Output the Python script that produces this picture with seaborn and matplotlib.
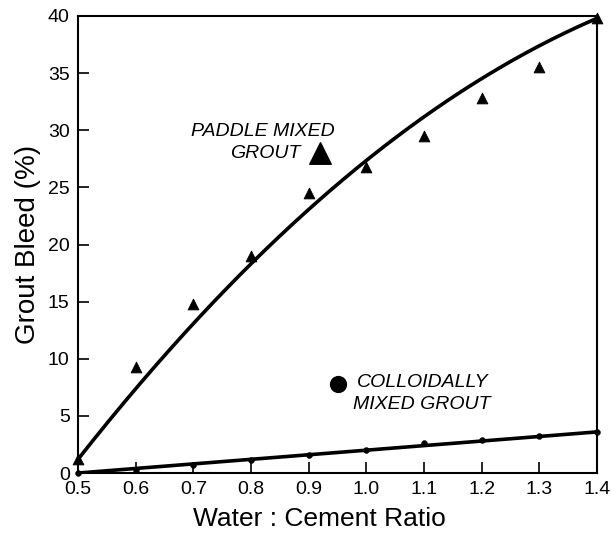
import numpy as np
import pandas as pd
import matplotlib
matplotlib.use("Agg")
import matplotlib.pyplot as plt
import seaborn as sns

ratio = [0.5, 0.6, 0.7, 0.8, 0.9, 1.0, 1.1, 1.2, 1.3, 1.4]
paddle_bleed = [1.2, 9.3, 14.8, 19.0, 24.5, 26.8, 29.5, 32.8, 35.5, 39.8]
colloidal_bleed = [0.0, 0.3, 0.7, 1.1, 1.6, 2.0, 2.6, 2.9, 3.2, 3.6]

sns.set_theme(style="ticks")
plt.rcParams["font.family"] = ["Liberation Sans", "DejaVu Sans"]

fig = plt.figure(figsize=(6.12, 5.4), dpi=100)
ax = fig.add_axes([0.1275, 0.124, 0.848, 0.8464])

df = pd.DataFrame({"ratio": ratio, "paddle": paddle_bleed, "colloidal": colloidal_bleed})

xs = np.linspace(0.5, 1.4, 200)
w = np.ones(len(ratio))
w[0] = w[-1] = 30.0
p2 = np.polyfit(ratio, paddle_bleed, 2, w=w)
p1 = np.polyfit(ratio, colloidal_bleed, 1, w=w)
fit = pd.DataFrame({"x": xs, "paddle": np.polyval(p2, xs), "colloidal": np.polyval(p1, xs)})

sns.lineplot(data=fit, x="x", y="paddle", ax=ax, color="black", linewidth=2.6)
sns.lineplot(data=fit, x="x", y="colloidal", ax=ax, color="black", linewidth=2.6)
sns.scatterplot(data=df, x="ratio", y="paddle", ax=ax, marker="^", s=60, color="black",
                edgecolor="black", clip_on=False, zorder=5)
sns.scatterplot(data=df, x="ratio", y="colloidal", ax=ax, marker="o", s=18, color="black",
                edgecolor="black", clip_on=False, zorder=5)

# legend-like annotations
ax.scatter([0.92], [28.0], marker="^", s=240, color="black", zorder=5)
ax.text(0.946, 29.85, "PADDLE MIXED", ha="right", va="center", fontsize=14, style="italic",
        color="black")
ax.text(0.885, 28.0, "GROUT", ha="right", va="center", fontsize=14, style="italic",
        color="black")
ax.scatter([0.951], [7.8], marker="o", s=130, color="black", zorder=5)
ax.text(0.984, 7.9, "COLLOIDALLY", ha="left", va="center", fontsize=14, style="italic",
        color="black")
ax.text(0.977, 6.0, "MIXED GROUT", ha="left", va="center", fontsize=14, style="italic",
        color="black")

ax.set_xlim(0.5, 1.4)
ax.set_ylim(0, 40)
ax.set_xticks(ratio)
ax.set_xticklabels(["0.5", "0.6", "0.7", "0.8", "0.9", "1.0", "1.1", "1.2", "1.3", "1.4"])
ax.set_yticks([0, 5, 10, 15, 20, 25, 30, 35, 40])
ax.tick_params(direction="in", length=8, width=1.2, labelsize=14, colors="black")
ax.tick_params(axis="x", pad=6)
ax.tick_params(axis="y", pad=6)
for s in ax.spines.values():
    s.set_linewidth(1.5)
    s.set_color("black")
ax.set_xlabel("Water : Cement Ratio", fontsize=19, color="black")
ax.set_ylabel("Grout Bleed (%)", fontsize=20, color="black")
ax.xaxis.set_label_coords(0.466, -0.075)
ax.yaxis.set_label_coords(-0.071, 0.5)

fig.savefig("out.png", dpi=100)
